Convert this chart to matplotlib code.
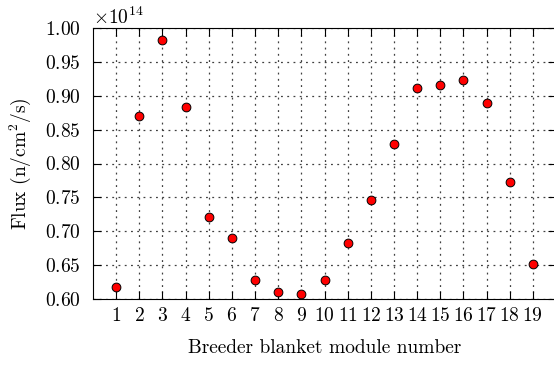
import matplotlib
matplotlib.use("Agg")
import matplotlib.pyplot as plt
import numpy as np

plt.rcParams['font.family'] = ['cmr10', 'DejaVu Serif']
plt.rcParams['mathtext.fontset'] = 'cm'
plt.rcParams['axes.formatter.use_mathtext'] = True
plt.rcParams['font.size'] = 14

modules = list(range(1, 20))
flux_e14 = [0.618, 0.870, 0.982, 0.883, 0.721, 0.690, 0.628, 0.611, 0.607, 0.628,
            0.683, 0.746, 0.829, 0.912, 0.916, 0.923, 0.889, 0.772, 0.651]
flux = np.array(flux_e14) * 1e14
yticks = [0.60, 0.65, 0.70, 0.75, 0.80, 0.85, 0.90, 0.95, 1.00]

fig = plt.figure(figsize=(5.54, 3.65), dpi=100)
ax = fig.add_axes([93/554, 1 - 299/365, (556 - 93)/554, (299 - 28)/365])
ax.plot(modules, flux, 'o', color='red', markeredgecolor='black', markeredgewidth=0.7,
        markersize=6.3, zorder=3, clip_on=False)
ax.set_xlim(0, 20)
ax.set_ylim(0.60e14, 1.00e14)
ax.set_xticks(modules)
ax.set_yticks(np.array(yticks) * 1e14)
ax.grid(True, linestyle=(0, (1.5, 3.5)), color='0.25', linewidth=0.9)
ax.tick_params(direction='in', length=6, top=True, right=True, width=0.8)
ax.tick_params(axis='x', pad=6)
ax.tick_params(axis='y', pad=8.6)
for s in ax.spines.values():
    s.set_linewidth(0.8)
ax.set_xlabel('Breeder blanket module number', labelpad=10)
ax.set_ylabel('Flux (n/cm$^2$/s)', labelpad=9)
fig.savefig('out.png', dpi=100)
